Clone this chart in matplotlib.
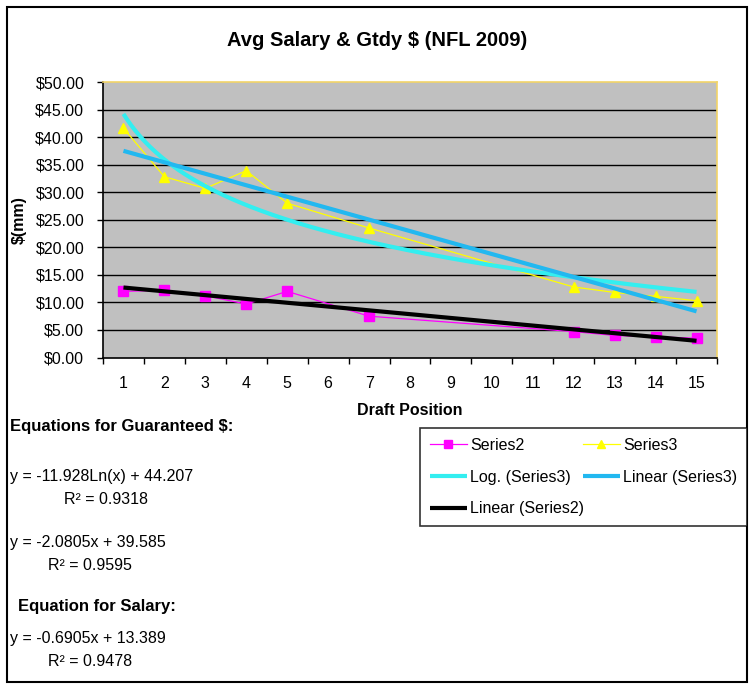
import matplotlib
matplotlib.use('Agg')
import matplotlib.pyplot as plt
import numpy as np
from matplotlib.lines import Line2D
from matplotlib.patches import Rectangle
from matplotlib.ticker import FixedLocator, FuncFormatter

plt.rcParams['font.family'] = ['Liberation Sans', 'DejaVu Sans']

# ---- data ----
positions = list(range(1, 16))
draft_x = [1, 2, 3, 4, 5, 7, 12, 13, 14, 15]
series2 = [12.0, 12.2, 11.2, 9.7, 12.0, 7.5, 4.7, 4.0, 3.75, 3.5]
series3 = [41.6, 32.8, 30.7, 33.9, 28.0, 23.5, 12.8, 11.8, 11.1, 10.3]
log3_coef = [-11.928, 44.207]
lin3_coef = [-2.0805, 39.585]
lin2_coef = [-0.6905, 13.389]
y_ticks = [0, 5, 10, 15, 20, 25, 30, 35, 40, 45, 50]
title = "Avg Salary & Gtdy $ (NFL 2009)"
eq_lines = [
    ("Equations for Guaranteed $:", 10, 426, 'bold'),
    ("y = -11.928Ln(x) + 44.207", 10, 476, 'normal'),
    ("R\u00b2 = 0.9318", 64, 500, 'normal'),
    ("y = -2.0805x + 39.585", 10, 542, 'normal'),
    ("R\u00b2 = 0.9595", 48, 566, 'normal'),
    ("Equation for Salary:", 18, 606, 'bold'),
    ("y = -0.6905x + 13.389", 10, 639, 'normal'),
    ("R\u00b2 = 0.9478", 48, 662, 'normal'),
]

W, H = 754, 688
fig = plt.figure(figsize=(W / 100, H / 100), dpi=100)

def fx(px):
    return px / W

def fy(py):
    return 1 - py / H

# outer frame
fig.patches.append(Rectangle((fx(7), fy(682)), fx(747) - fx(7), fy(7) - fy(682),
                             transform=fig.transFigure, fill=False,
                             edgecolor='black', linewidth=1.5))

ax = fig.add_axes([fx(103), fy(357.5), fx(717) - fx(103), fy(82) - fy(357.5)])
ax.set_facecolor('#C0C0C0')
ax.set_xlim(0.5, 15.5)
ax.set_ylim(0, 50)

for v in y_ticks[1:-1]:
    ax.axhline(v, color='black', linewidth=1.0, zorder=1)

xs = np.linspace(1, 15, 300)
log_y = log3_coef[0] * np.log(xs) + log3_coef[1]
lin3_y = lin3_coef[0] * xs + lin3_coef[1]
lin2_y = lin2_coef[0] * xs + lin2_coef[1]

l_s2, = ax.plot(draft_x, series2, color='#FF00FF', linewidth=0.9, marker='s',
                markersize=6.5, markeredgecolor='#FF00FF', zorder=3, label='Series2')
l_s3, = ax.plot(draft_x, series3, color='#FFFF00', linewidth=0.9, marker='^',
                markersize=7.5, markeredgecolor='#FFFF00', zorder=3, label='Series3')
l_log, = ax.plot(xs, log_y, color='#33EEF0', linewidth=3.0, zorder=4,
                 label='Log. (Series3)', solid_capstyle='butt')
l_lin3, = ax.plot(xs, lin3_y, color='#22B8F0', linewidth=3.0, zorder=4,
                  label='Linear (Series3)', solid_capstyle='butt')
l_lin2, = ax.plot(xs, lin2_y, color='black', linewidth=3.0, zorder=4,
                  label='Linear (Series2)', solid_capstyle='butt')

# spines
ax.spines['left'].set_color('black')
ax.spines['bottom'].set_color('black')
ax.spines['top'].set_color('#F2D468')
ax.spines['right'].set_color('#F2D468')
for s in ax.spines.values():
    s.set_linewidth(1.2)

ax.yaxis.set_major_locator(FixedLocator(y_ticks))
ax.yaxis.set_major_formatter(FuncFormatter(lambda v, p: f"${v:.2f}"))
ax.tick_params(axis='y', direction='out', length=4.5, width=1, labelsize=11.5,
               pad=9, colors='black')
ax.set_xticks(positions)
ax.set_xticklabels([str(p) for p in positions])
ax.set_xticks([p + 0.5 for p in [0] + positions], minor=True)
ax.tick_params(axis='x', which='major', length=0, labelsize=11.5, pad=13)
ax.tick_params(axis='x', which='minor', direction='out', length=4.5, width=1)

fig.text(fx(410), fy(411), "Draft Position", fontsize=11.5, fontweight='bold',
         ha='center', va='center')
fig.text(fx(19), fy(220), "$(mm)", fontsize=11.5, fontweight='bold',
         ha='center', va='center', rotation=90, parse_math=False)

fig.text(fx(377), fy(40), title, fontsize=14.5, fontweight='bold',
         ha='center', va='center', parse_math=False)

for txt, x, y, w in eq_lines:
    fig.text(fx(x), fy(y), txt, fontsize=12 if w == 'bold' else 11.5,
             fontweight=w, ha='left', va='center', parse_math=False)

leg = fig.legend(handles=[l_s2, l_log, l_lin2, l_s3, l_lin3], ncol=2,
                 loc='upper left',
                 bbox_to_anchor=(fx(420), fy(428), fx(747) - fx(420), 0),
                 mode='expand', fontsize=11.5, frameon=True, fancybox=False,
                 edgecolor='black', handlelength=2.3, handletextpad=0.2,
                 labelspacing=1.05, borderaxespad=0.0, columnspacing=1.0,
                 borderpad=0.62)
leg.get_frame().set_linewidth(1.2)
for h in leg.legend_handles:
    if h.get_marker() not in (None, 'None', ''):
        h.set_markersize(5.5)

fig.savefig('out.png', dpi=100)
